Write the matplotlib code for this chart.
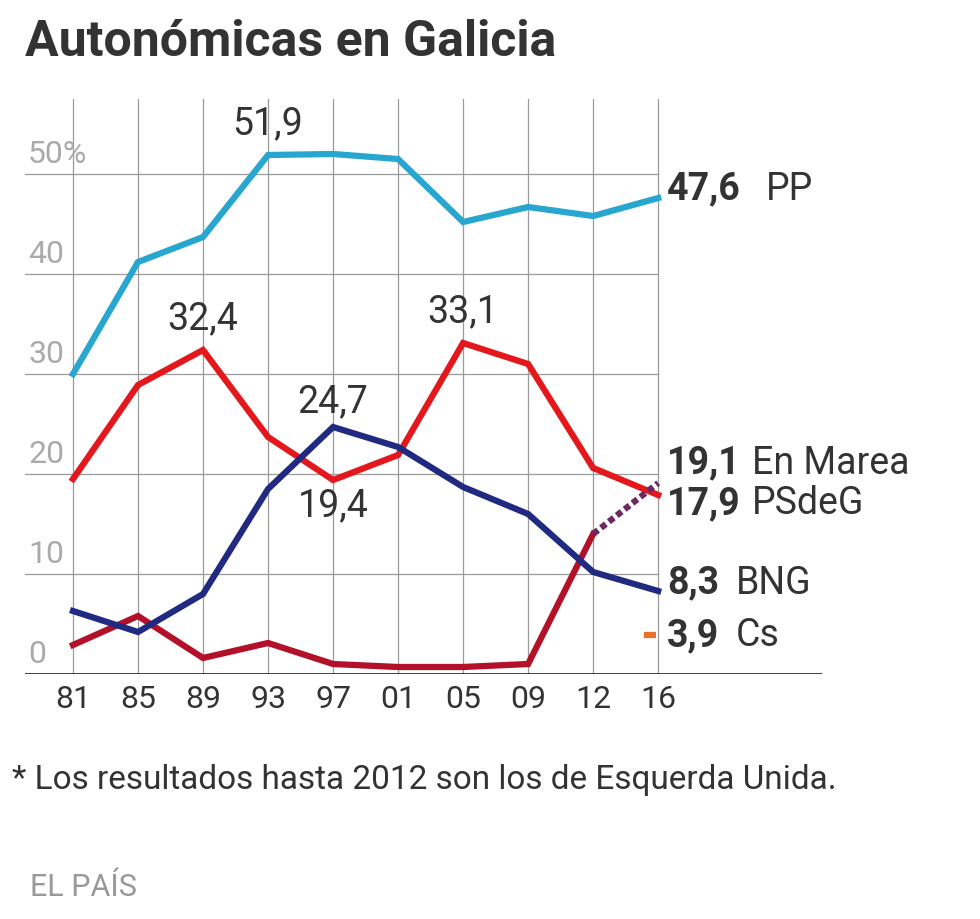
import matplotlib
matplotlib.use("Agg")
import matplotlib.pyplot as plt

years = ["81", "85", "89", "93", "97", "01", "05", "09", "12", "16"]
pp = [30.0, 41.2, 43.7, 51.9, 52.0, 51.5, 45.2, 46.7, 45.8, 47.6]
psdeg = [19.5, 28.9, 32.4, 23.7, 19.4, 21.9, 33.1, 31.0, 20.6, 17.9]
bng = [6.3, 4.2, 8.0, 18.5, 24.7, 22.7, 18.7, 16.0, 10.2, 8.3]
eu = [2.9, 5.8, 1.6, 3.1, 1.0, 0.7, 0.7, 1.0, 14.0]
en_marea = [14.0, 19.1]
cs = 3.9
yticks = [0, 10, 20, 30, 40, 50]
ytick_labels = ["0", "10", "20", "30", "40", "50%"]

plt.rcParams['font.family'] = ['Roboto', 'DejaVu Sans']
fig = plt.figure(figsize=(9.8, 9.2), dpi=100)
ax = fig.add_axes([25/980, 245/920, 797/980, 575/920])
ax.set_xlim(-0.738, 11.52)
ax.set_ylim(0, 57.5)
ax.axis('off')
x = list(range(len(years)))
grid = '#9a9a9a'
for v in yticks[1:]:
    ax.plot([-0.738, 9], [v, v], color=grid, lw=0.9, zorder=1)
for i in x:
    ax.plot([i, i], [0, 57.5], color=grid, lw=0.9, zorder=1)
ax.plot([-0.738, 11.52], [0, 0], color='#222222', lw=1.2, zorder=1)
for v, l in zip(yticks, ytick_labels):
    ax.text(-0.69, v + 0.6, l, color='#aaaaaa', fontsize=23, ha='left', va='bottom')
for i, y in zip(x, years):
    ax.text(i, -1.0, y, ha='center', va='top', fontsize=23, color='#333333')

lw = 4.5
ax.plot(x, pp, color='#27a6cf', lw=lw, zorder=3, solid_joinstyle='miter')
ax.plot(x, psdeg, color='#e3171c', lw=lw, zorder=3, solid_joinstyle='miter')
ax.plot(x, bng, color='#1f2a80', lw=lw, zorder=4, solid_joinstyle='miter')
ax.plot(x[:9], eu, color='#b3102a', lw=lw, zorder=3, solid_joinstyle='miter')
ax.plot([8, 9], en_marea, color='#6d2a60', lw=lw, ls=(0, (1, 0.6)), zorder=3)
ax.plot([8.78, 8.97], [cs, cs], color='#e8722c', lw=lw, solid_capstyle='butt')

tc = '#333333'
fs = 27
ax.text(3, pp[3] + 1.4, "51,9", ha='center', va='bottom', fontsize=fs, color=tc)
ax.text(2, psdeg[2] + 1.4, "32,4", ha='center', va='bottom', fontsize=fs, color=tc)
ax.text(6, psdeg[6] + 1.4, "33,1", ha='center', va='bottom', fontsize=fs, color=tc)
ax.text(4, bng[4] + 0.8, "24,7", ha='center', va='bottom', fontsize=fs, color=tc)
ax.text(4, psdeg[4] - 0.6, "19,4", ha='center', va='top', fontsize=fs, color=tc)

right = [(pp[-1] + 1.0, "47,6", "PP"), (21.2, "19,1", "En Marea"),
         (17.1, "17,9", "PSdeG"), (9.2, "8,3", "BNG"), (cs, "3,9", "Cs")]
offs = {"47,6": 1.52, "19,1": 1.3, "17,9": 1.3, "8,3": 1.05, "3,9": 1.05}
for yv, num, name in right:
    ax.text(9.14, yv, num, ha='left', va='center', fontsize=fs, fontweight='bold', color=tc)
    ax.text(9.14 + offs[num], yv, name, ha='left', va='center', fontsize=fs, color=tc)

fig.text(25/980, 1 - 42/920, "Autonómicas en Galicia", fontsize=36, fontweight='bold',
         color='#333333', ha='left', va='center')
fig.text(12/980, 1 - 780/920, "* Los resultados hasta 2012 son los de Esquerda Unida.",
         fontsize=24, color='#333333', ha='left', va='center')
fig.text(30/980, 1 - 888/920, "EL PAÍS", fontsize=22, color='#999999', ha='left', va='center')
fig.savefig("out.png", dpi=100)
